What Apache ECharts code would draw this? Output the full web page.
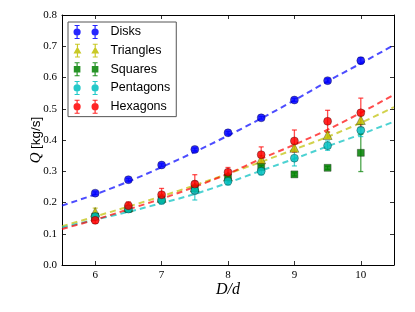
<!DOCTYPE html>
<html>
<head>
<meta charset="utf-8">
<script src="https://cdn.jsdelivr.net/npm/echarts@6/dist/echarts.min.js"></script>
<style>html,body{margin:0;padding:0;background:#fff;}#c{width:415px;height:312px;}</style>
</head>
<body>
<div id="c"></div>
<script>
// ---- data ----
const ratios = [6, 6.5, 7, 7.5, 8, 8.5, 9, 9.5, 10];
const disks      = [0.230, 0.273, 0.320, 0.370, 0.423, 0.471, 0.528, 0.590, 0.654];
const disksErr   = [0.004, 0.004, 0.004, 0.004, 0.004, 0.004, 0.005, 0.006, 0.010];
const triangles    = [0.170, 0.185, 0.215, 0.248, 0.283, 0.338, 0.375, 0.416, 0.464];
const trianglesErr = [0.012, 0.010, 0.010, 0.010, 0.010, 0.012, 0.012, 0.010, 0.015];
const squares    = [0.155, 0.180, 0.210, 0.245, 0.280, 0.313, 0.290, 0.311, 0.359];
const squaresErr = [0.005, 0.005, 0.005, 0.005, 0.005, 0.005, 0.005, 0.005, 0.060];
const pentagons    = [0.155, 0.179, 0.207, 0.238, 0.268, 0.300, 0.342, 0.382, 0.431];
const pentagonsErr = [0.008, 0.010, 0.012, 0.030, 0.012, 0.012, 0.025, 0.015, 0.020];
const hexagons    = [0.143, 0.190, 0.225, 0.259, 0.297, 0.353, 0.397, 0.460, 0.487];
const hexagonsErr = [0.010, 0.012, 0.020, 0.030, 0.015, 0.025, 0.035, 0.035, 0.047];

const fitX = [5.5, 6, 6.5, 7, 7.5, 8, 8.5, 9, 9.5, 10, 10.5];
const disksFit     = [0.190, 0.226, 0.267, 0.313, 0.362, 0.414, 0.469, 0.527, 0.588, 0.645, 0.704];
const trianglesFit = [0.124, 0.155, 0.187, 0.220, 0.255, 0.292, 0.330, 0.370, 0.410, 0.455, 0.505];
const pentagonsFit = [0.120, 0.145, 0.170, 0.198, 0.227, 0.263, 0.302, 0.340, 0.380, 0.418, 0.459];
const hexagonsFit  = [0.115, 0.145, 0.178, 0.212, 0.250, 0.292, 0.340, 0.385, 0.433, 0.487, 0.545];

const xTicks = [6, 7, 8, 9, 10];

// ---- styling ----
const C = {
  Disks: '#0000ff', Triangles: '#bfbf00', Squares: '#008000',
  Pentagons: '#00bfbf', Hexagons: '#ff0000'
};
// legend glyph pieces, built around centre cx (icon box 32 x 14)
function barP(cx){
  return `M${cx-0.6},0 L${cx+0.6},0 L${cx+0.6},14 L${cx-0.6},14 Z ` +
         `M${cx-2.5},0 L${cx+2.5},0 L${cx+2.5},1 L${cx-2.5},1 Z ` +
         `M${cx-2.5},13 L${cx+2.5},13 L${cx+2.5},14 L${cx-2.5},14 Z`;
}
function circP(cx){ return `M${cx-3.6},7 A3.6,3.6 0 1,1 ${cx+3.6},7 A3.6,3.6 0 1,1 ${cx-3.6},7 Z`; }
function triP(cx){ return `M${cx},2.8 L${cx+4},10 L${cx-4},10 Z`; }
function sqP(cx){ return `M${cx-3.3},3.7 L${cx+3.3},3.7 L${cx+3.3},10.3 L${cx-3.3},10.3 Z`; }
function icon(mk){
  return 'path://' + barP(3.6) + ' ' + mk(3.6) + ' ' + barP(21.6) + ' ' + mk(21.6) + ' M0,0 L0,0.01 M32,14 L32,13.99';
}

function pairs(xs, ys){ return xs.map((x, i) => [x, ys[i]]); }
function triples(xs, ys, es){ return xs.map((x, i) => [x, ys[i], es[i]]); }

function errSeries(name, ys, es){
  const col = C[name];
  return {
    type: 'custom', name: 'err-' + name, silent: true, z: 3,
    data: triples(ratios, ys, es),
    encode: { x: 0, y: 1 },
    renderItem: function (params, api) {
      const x = api.value(0), y = api.value(1), e = api.value(2);
      const t = api.coord([x, y + e]), b = api.coord([x, y - e]);
      const w = 2.5;
      const st = { stroke: col, lineWidth: 1.3, opacity: 0.7 };
      return { type: 'group', children: [
        { type: 'line', shape: { x1: t[0], y1: t[1], x2: b[0], y2: b[1] }, style: st },
        { type: 'line', shape: { x1: t[0] - w, y1: t[1], x2: t[0] + w, y2: t[1] }, style: st },
        { type: 'line', shape: { x1: b[0] - w, y1: b[1], x2: b[0] + w, y2: b[1] }, style: st }
      ]};
    }
  };
}
function markSeries(name, ys, symbol, size){
  return {
    type: 'scatter', name: name, z: 4, data: pairs(ratios, ys),
    symbol: symbol, symbolSize: size,
    itemStyle: { color: C[name], opacity: 0.85, borderColor: 'rgba(0,0,0,0.45)', borderWidth: 0.8 }
  };
}
function fitSeries(name, ys){
  return {
    type: 'line', name: 'fit-' + name, z: 2, data: pairs(fitX, ys),
    smooth: 0.3, symbol: 'none', silent: true,
    lineStyle: { color: C[name], width: 2, type: [6, 4], opacity: 0.7 }
  };
}

const serif = '"Liberation Serif", "DejaVu Serif", serif';
const axisCommon = {
  axisLine: { show: true, onZero: false, lineStyle: { color: '#000', width: 1 } },
  axisTick: { show: true, inside: true, length: 4, lineStyle: { color: '#000', width: 0.8 } },
  splitLine: { show: false }
};

const option = {
  animation: false,
  backgroundColor: '#fff',
  grid: { left: 62, right: 21, top: 15, bottom: 47 },
  legend: {
    orient: 'vertical', left: 68, top: 22,
    padding: [3, 6, 3, 5.5], itemGap: 4.7,
    itemWidth: 32, itemHeight: 14,
    backgroundColor: '#fff', borderColor: '#555', borderWidth: 1, borderRadius: 0,
    selectedMode: false,
    itemStyle: { borderWidth: 0, opacity: 0.85 },
    textStyle: { fontFamily: '"Liberation Sans", Arial, sans-serif', fontSize: 12.5, color: '#000' },
    data: [
      { name: 'Disks', icon: icon(circP) },
      { name: 'Triangles', icon: icon(triP) },
      { name: 'Squares', icon: icon(sqP) },
      { name: 'Pentagons', icon: icon(circP) },
      { name: 'Hexagons', icon: icon(circP) }
    ]
  },
  xAxis: [
    Object.assign({}, axisCommon, {
      type: 'value', min: 5.5, max: 10.5, position: 'bottom',
      axisTick: Object.assign({}, axisCommon.axisTick, { customValues: xTicks }),
      axisLabel: { customValues: xTicks, fontFamily: serif, fontSize: 11, color: '#000', margin: 5 },
      name: 'D/d', nameLocation: 'middle', nameGap: 17, nameMoveOverlap: false,
      nameTextStyle: { fontFamily: serif, fontStyle: 'italic', fontSize: 16, color: '#000' }
    }),
    Object.assign({}, axisCommon, {
      type: 'value', min: 5.5, max: 10.5, position: 'top',
      axisTick: Object.assign({}, axisCommon.axisTick, { customValues: xTicks }),
      axisLabel: { show: false }
    })
  ],
  yAxis: [
    Object.assign({}, axisCommon, {
      type: 'value', min: 0, max: 0.8, interval: 0.1, position: 'left',
      axisLabel: { formatter: v => v.toFixed(1), fontFamily: serif, fontSize: 11, color: '#000', margin: 5 },
      name: '{q|Q} {u|[kg/s]}', nameLocation: 'middle', nameGap: 18, nameRotate: 90, nameMoveOverlap: false,
      nameTextStyle: {
        rich: {
          q: { fontFamily: serif, fontStyle: 'italic', fontSize: 15, color: '#000' },
          u: { fontFamily: '"Liberation Sans", Arial, sans-serif', fontSize: 13.5, color: '#000' }
        }
      }
    }),
    Object.assign({}, axisCommon, {
      type: 'value', min: 0, max: 0.8, interval: 0.1, position: 'right',
      axisLabel: { show: false }
    })
  ],
  series: [
    fitSeries('Disks', disksFit),
    fitSeries('Triangles', trianglesFit),
    fitSeries('Pentagons', pentagonsFit),
    fitSeries('Hexagons', hexagonsFit),
    errSeries('Disks', disks, disksErr), markSeries('Disks', disks, 'circle', 8),
    errSeries('Triangles', triangles, trianglesErr), markSeries('Triangles', triangles, 'triangle', 9),
    errSeries('Squares', squares, squaresErr), markSeries('Squares', squares, 'rect', 7),
    errSeries('Pentagons', pentagons, pentagonsErr), markSeries('Pentagons', pentagons, 'circle', 8),
    errSeries('Hexagons', hexagons, hexagonsErr), markSeries('Hexagons', hexagons, 'circle', 8)
  ]
};

const chart = echarts.init(document.getElementById('c'), null, { renderer: 'canvas' });
chart.setOption(option);
</script>
</body>
</html>
